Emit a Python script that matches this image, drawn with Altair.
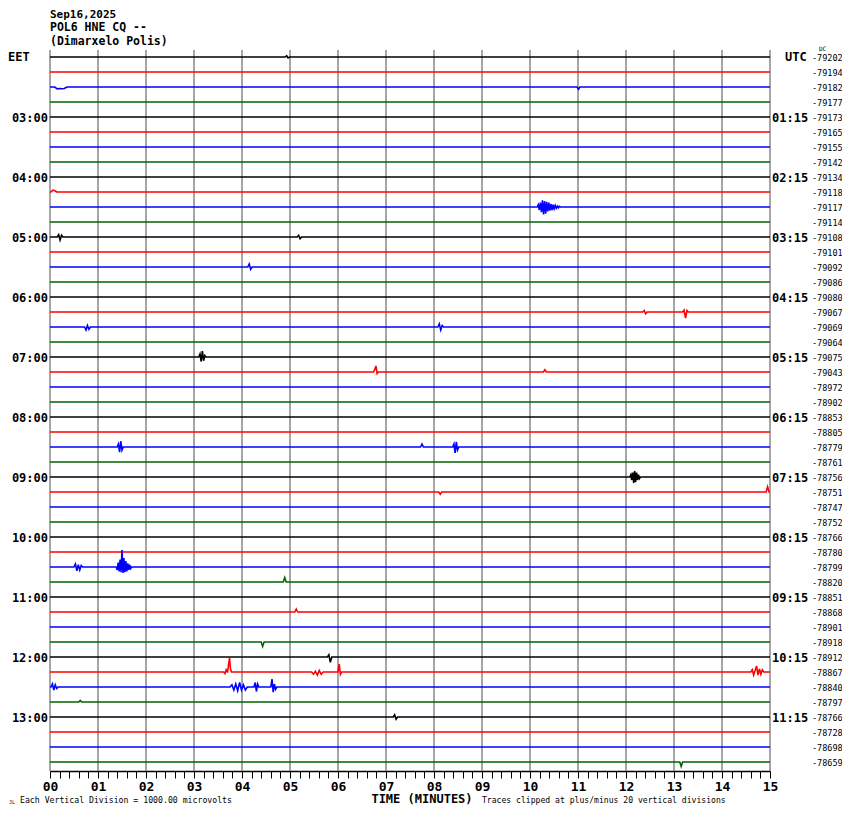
import altair as alt
import pandas as pd

# ---------------- data ----------------
DATE = "Sep16,2025"
STATION = "POL6 HNE CQ --"
PLACE = "(Dimarxelo Polis)"
LEFT_ZONE = "EET"
RIGHT_ZONE = "UTC"
X_TITLE = "TIME (MINUTES)"
SCALE_NOTE = "Each Vertical Division = 1000.00 microvolts"
CLIP_NOTE = "Traces clipped at plus/minus 20 vertical divisions"

N_ROWS = 48
LABEL_ROWS = [4, 8, 12, 16, 20, 24, 28, 32, 36, 40, 44]
EET_LABELS = ["03:00", "04:00", "05:00", "06:00", "07:00", "08:00",
              "09:00", "10:00", "11:00", "12:00", "13:00"]
UTC_LABELS = ["01:15", "02:15", "03:15", "04:15", "05:15", "06:15",
              "07:15", "08:15", "09:15", "10:15", "11:15"]
DC_VALUES = [-79202, -79194, -79182, -79177, -79173, -79165, -79155, -79142,
             -79134, -79118, -79117, -79114, -79108, -79101, -79092, -79086,
             -79080, -79067, -79069, -79064, -79075, -79043, -78972, -78902,
             -78853, -78805, -78779, -78761, -78756, -78751, -78747, -78752,
             -78766, -78780, -78799, -78820, -78851, -78868, -78901, -78918,
             -78912, -78867, -78840, -78797, -78766, -78728, -78698, -78659]
TRACE_PHASES = ["black", "red", "blue", "green"]
TRACE_COLORS = ["#000000", "#ff0000", "#0000ff", "#006400"]
MINUTES = list(range(16))

# events: (row, start minute, sample step, amplitudes in trace spacings, + = up)
EVENTS = [
    (0, 4.90, 0.03, [0, 0.08, -0.06, 0]),
    (2, 0.10, 0.05, [0, -0.12, -0.1, -0.12, -0.1, 0]),
    (2, 10.98, 0.03, [0, -0.15, 0]),
    (9, 0.02, 0.04, [0, 0.12, 0.08, 0]),
    (10, 10.15, 0.022, [0, 0.15, -0.2, 0.3, -0.35, 0.45, -0.5, 0.4, -0.45, 0.35, -0.3,
                        0.3, -0.25, 0.2, -0.2, 0.15, -0.12, 0.1, -0.08, 0.06, -0.05, 0.04, 0]),
    (12, 0.15, 0.03, [0, 0.15, -0.2, 0.12, 0]),
    (12, 5.15, 0.03, [0, 0.12, -0.12, 0]),
    (14, 4.12, 0.03, [0, 0.2, -0.15, 0]),
    (17, 12.35, 0.03, [0, 0.1, -0.12, 0]),
    (17, 13.18, 0.03, [0, 0.12, -0.4, 0.1, 0]),
    (18, 0.72, 0.03, [0, -0.2, 0.1, -0.15, 0]),
    (18, 8.08, 0.03, [0, 0.2, -0.2, 0.1, 0]),
    (20, 3.10, 0.025, [0, 0.2, -0.3, 0.4, -0.25, 0.1, 0]),
    (21, 6.74, 0.025, [0, 0.15, 0.4, -0.1, 0]),
    (21, 10.28, 0.03, [0, 0.15, 0]),
    (26, 1.40, 0.025, [0, 0.2, -0.35, 0.4, -0.2, 0]),
    (26, 7.72, 0.03, [0, 0.2, 0]),
    (26, 8.39, 0.025, [0, 0.2, -0.4, 0.35, -0.2, 0]),
    (28, 12.08, 0.02, [0, 0.15, -0.2, 0.3, -0.4, 0.4, -0.35, 0.3, -0.2, 0.15, -0.1, 0]),
    (29, 8.10, 0.03, [0, -0.15, 0]),
    (29, 14.92, 0.03, [0, 0.35, 0]),
    (34, 0.50, 0.03, [0, 0.2, -0.25, 0.15, -0.2, 0.1, 0]),
    (34, 1.38, 0.02, [0, -0.2, 0.3, -0.3, 0.5, -0.35, 1.13, -0.4, 0.6, -0.35, 0.4,
                      -0.3, 0.25, -0.2, 0.15, -0.1, 0]),
    (35, 4.86, 0.03, [0, 0.3, 0]),
    (37, 5.10, 0.03, [0, 0.2, 0]),
    (39, 4.40, 0.03, [0, -0.3, 0]),
    (40, 5.78, 0.03, [0, 0.15, -0.35, 0]),
    (41, 3.62, 0.025, [0, -0.1, 0.15, 0]),
    (41, 3.70, 0.02, [0, 0.5, 0.93, 0.2, 0]),
    (41, 5.45, 0.04, [0, -0.15, 0.05, -0.2, 0.1, -0.15, 0]),
    (41, 6.00, 0.025, [0, 0.53, -0.15, 0]),
    (41, 14.60, 0.03, [0, 0.15, -0.2, 0.1, 0.4, -0.2, 0.2, -0.15, 0.15, 0]),
    (42, 0.02, 0.03, [0, 0.2, -0.2, 0.15, -0.1, 0]),
    (42, 3.75, 0.04, [0, 0.15, -0.2, 0.2, -0.25, 0.3, -0.2, 0.15, -0.2, 0]),
    (42, 4.25, 0.025, [0, 0.3, -0.3, 0.2, 0]),
    (42, 4.60, 0.025, [0, 0.53, -0.35, 0.2, -0.15, 0]),
    (43, 0.60, 0.03, [0, 0.1, 0]),
    (44, 7.15, 0.03, [0, 0.15, -0.15, 0]),
    (47, 13.12, 0.03, [0, -0.3, 0]),
]

# ---------------- tables ----------------
trace_rows = []
for r in range(N_ROWS):
    phase = TRACE_PHASES[r % 4]
    trace_rows.append({"row": r, "minute": 0.0, "amp": 0.0, "phase": phase})
    trace_rows.append({"row": r, "minute": 15.0, "amp": 0.0, "phase": phase})
for (r, start, step, amps) in EVENTS:
    for k, a in enumerate(amps):
        trace_rows.append({"row": r, "minute": start + k * step, "amp": a,
                           "phase": TRACE_PHASES[r % 4]})
traces = pd.DataFrame(trace_rows)
traces["y"] = traces["row"] - traces["amp"]
traces = traces.sort_values(["row", "minute"]).reset_index(drop=True)

left_df = pd.DataFrame({"row": LABEL_ROWS, "label": EET_LABELS})
right_df = pd.DataFrame({"row": LABEL_ROWS, "label": UTC_LABELS})
dc_df = pd.DataFrame({"row": list(range(N_ROWS)), "label": [str(v) for v in DC_VALUES]})
grid_df = pd.DataFrame({"minute": MINUTES})

W, H = 720, 721
yscale = alt.Scale(domain=[-7 / 15, 47.6], reverse=True, nice=False, zero=False)
xscale = alt.Scale(domain=[0, 15], nice=False, zero=False)
MONO = "DejaVu Sans Mono"

tick_vals = [i / 5 for i in range(76)]
x_axis = alt.Axis(
    values=tick_vals,
    labelExpr="abs(datum.value - round(datum.value)) < 0.01 ? (round(datum.value) < 10 ? '0' : '') + round(datum.value) : ''",
    grid=False, domainColor="#000000", domainWidth=1.5, tickColor="#000000",
    tickWidth=1, tickSize=7, labelFont=MONO, labelFontWeight="bold",
    labelFontSize=13, labelColor="#000000", labelPadding=2, title=None,
    labelFlush=False, labelOverlap=False,
)

grid = alt.Chart(grid_df).mark_rule(color="#808080", strokeWidth=1.4).encode(
    x=alt.X("minute:Q", scale=xscale, axis=x_axis),
    y=alt.value(0), y2=alt.value(H),
)

lines = alt.Chart(traces).mark_line(strokeWidth=1.6, interpolate="linear").encode(
    x=alt.X("minute:Q", scale=xscale, axis=x_axis),
    y=alt.Y("y:Q", scale=yscale, axis=None),
    detail="row:N",
    order="minute:Q",
    color=alt.Color("phase:N", scale=alt.Scale(domain=TRACE_PHASES, range=TRACE_COLORS),
                    legend=None),
)

left_text = alt.Chart(left_df).mark_text(
    align="right", baseline="middle", font=MONO, fontWeight="bold", fontSize=12,
    color="#000000", dy=1,
).encode(x=alt.value(-2), y=alt.Y("row:Q", scale=yscale, axis=None), text="label:N")

right_text = alt.Chart(right_df).mark_text(
    align="left", baseline="middle", font=MONO, fontWeight="bold", fontSize=12,
    color="#000000", dy=1,
).encode(x=alt.value(722), y=alt.Y("row:Q", scale=yscale, axis=None), text="label:N")

dc_text = alt.Chart(dc_df).mark_text(
    align="left", baseline="middle", font=MONO, fontSize=8.5, color="#000000", dy=1,
).encode(x=alt.value(762), y=alt.Y("row:Q", scale=yscale, axis=None), text="label:N")


def label(txt, x, y, size, weight="normal", align="left"):
    return alt.Chart(pd.DataFrame({"t": [txt]})).mark_text(
        align=align, baseline="middle", font=MONO, fontSize=size, fontWeight=weight,
        color="#000000",
    ).encode(x=alt.value(x), y=alt.value(y), text="t:N")


annotations = [
    label(DATE, 0, -35, 11, "bold"),
    label(STATION, 0, -22, 11.5, "bold"),
    label(PLACE, 0, -8, 11.5, "bold"),
    label(LEFT_ZONE, -42, 7, 12, "bold"),
    label(RIGHT_ZONE, 735, 7, 12, "bold"),
    label("DC", 769, -1, 6),
    label(X_TITLE, 372, 749, 12, "bold", "center"),
    label(SCALE_NOTE, -30, 751, 8.2),
    label(CLIP_NOTE, 432, 751, 8.1),
    label("JL", -41, 752, 5),
]

chart = alt.layer(grid, lines, left_text, right_text, dc_text, *annotations).properties(
    width=W, height=H,
    autosize=alt.AutoSizeParams(type="none"),
    padding={"left": 42, "top": 42, "right": 72, "bottom": 35},
    background="#ffffff",
).configure_view(stroke=None)

chart.save("out.html", embed_options={"renderer": "svg", "actions": False})
